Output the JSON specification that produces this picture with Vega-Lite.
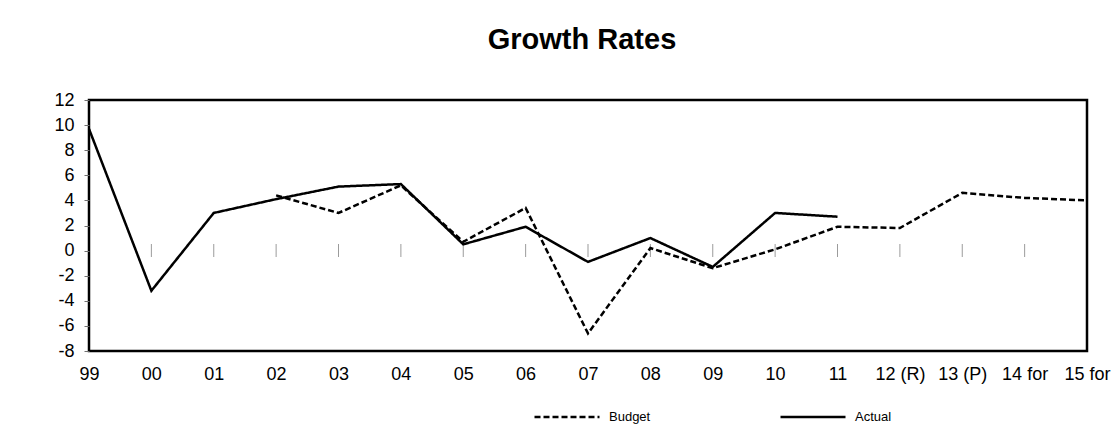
{
  "$schema": "https://vega.github.io/schema/vega-lite/v6.json",
  "width": 998,
  "height": 251,
  "autosize": {"type": "none"},
  "padding": {"left": 89, "top": 100, "right": 29, "bottom": 86},
  "background": "white",
  "title": {"text": "Growth Rates", "fontSize": 29, "font": "Liberation Sans", "fontWeight": "bold", "color": "black", "anchor": "middle", "dx": -6, "offset": 36},
  "config": {
    "font": "Liberation Sans",
    "view": {"stroke": "black", "strokeWidth": 2.5},
    "axis": {"labelColor": "black", "grid": false, "labelFont": "Liberation Sans"},
    "axisY": {"title": "%", "titleAngle": 0, "titleFontSize": 18, "titleFontWeight": "bold", "titleColor": "black", "titleX": -49, "titleY": 78, "titleAlign": "center", "titleBaseline": "middle", "values": [-8,-6,-4,-2,0,2,4,6,8,10,12], "labelExpr": "'' + datum.value", "labelOverlap": false, "labelFontSize": 18, "tickSize": 5, "tickColor": "#707070", "labelPadding": 10, "domain": false}
  },
  "datasets": {
    "growth": [
      {"year": "99", "series": "Actual", "value": 9.7},
      {"year": "00", "series": "Actual", "value": -3.2},
      {"year": "01", "series": "Actual", "value": 3.0},
      {"year": "02", "series": "Actual", "value": 4.1},
      {"year": "03", "series": "Actual", "value": 5.1},
      {"year": "04", "series": "Actual", "value": 5.3},
      {"year": "05", "series": "Actual", "value": 0.5},
      {"year": "06", "series": "Actual", "value": 1.9},
      {"year": "07", "series": "Actual", "value": -0.9},
      {"year": "08", "series": "Actual", "value": 1.0},
      {"year": "09", "series": "Actual", "value": -1.3},
      {"year": "10", "series": "Actual", "value": 3.0},
      {"year": "11", "series": "Actual", "value": 2.7},
      {"year": "02", "series": "Budget", "value": 4.4},
      {"year": "03", "series": "Budget", "value": 3.0},
      {"year": "04", "series": "Budget", "value": 5.2},
      {"year": "05", "series": "Budget", "value": 0.7},
      {"year": "06", "series": "Budget", "value": 3.4},
      {"year": "07", "series": "Budget", "value": -6.6},
      {"year": "08", "series": "Budget", "value": 0.2},
      {"year": "09", "series": "Budget", "value": -1.4},
      {"year": "10", "series": "Budget", "value": 0.1},
      {"year": "11", "series": "Budget", "value": 1.9},
      {"year": "12 (R)", "series": "Budget", "value": 1.8},
      {"year": "13 (P)", "series": "Budget", "value": 4.6},
      {"year": "14 for", "series": "Budget", "value": 4.2},
      {"year": "15 for", "series": "Budget", "value": 4.0}
    ],
    "years": [
      {"year": "00"}, {"year": "01"}, {"year": "02"}, {"year": "03"}, {"year": "04"},
      {"year": "05"}, {"year": "06"}, {"year": "07"}, {"year": "08"}, {"year": "09"},
      {"year": "10"}, {"year": "11"}, {"year": "12 (R)"}, {"year": "13 (P)"}, {"year": "14 for"}
    ]
  },
  "encoding": {
    "x": {
      "field": "year",
      "type": "ordinal",
      "scale": {"type": "point", "padding": 0, "domain": ["99","00","01","02","03","04","05","06","07","08","09","10","11","12 (R)","13 (P)","14 for","15 for"]},
      "axis": {"title": null, "labelAngle": 0, "labelFontSize": 18, "labelPadding": 14, "ticks": false, "domain": false, "labelOverlap": false}
    }
  },
  "layer": [
    {
      "mark": {"type": "rule", "color": "black", "strokeWidth": 1},
      "encoding": {"x": null, "y": {"datum": 0, "type": "quantitative", "scale": {"domain": [-8, 12], "nice": false, "zero": false}}}
    },
    {
      "data": {"name": "years"},
      "mark": {"type": "tick", "orient": "vertical", "size": 13, "thickness": 1, "color": "#707070"},
      "encoding": {"y": {"datum": 0, "type": "quantitative", "scale": {"domain": [-8, 12], "nice": false, "zero": false}}}
    },
    {
      "data": {"name": "growth"},
      "mark": {"type": "line", "color": "black", "strokeWidth": 2.5},
      "encoding": {
        "y": {
          "field": "value",
          "type": "quantitative",
          "scale": {"domain": [-8, 12], "nice": false, "zero": false}
        },
        "strokeDash": {
          "field": "series",
          "type": "nominal",
          "scale": {"domain": ["Budget", "Actual"], "range": [[6, 3], [1, 0]]},
          "legend": {"title": null, "orient": "none", "legendX": 444, "legendY": 283, "direction": "horizontal", "symbolType": "stroke", "symbolSize": 4225, "symbolStrokeWidth": 2.5, "symbolStrokeColor": "black", "labelFontSize": 13, "labelColor": "black", "labelOffset": 8, "columnPadding": 124}
        }
      }
    }
  ]
}
